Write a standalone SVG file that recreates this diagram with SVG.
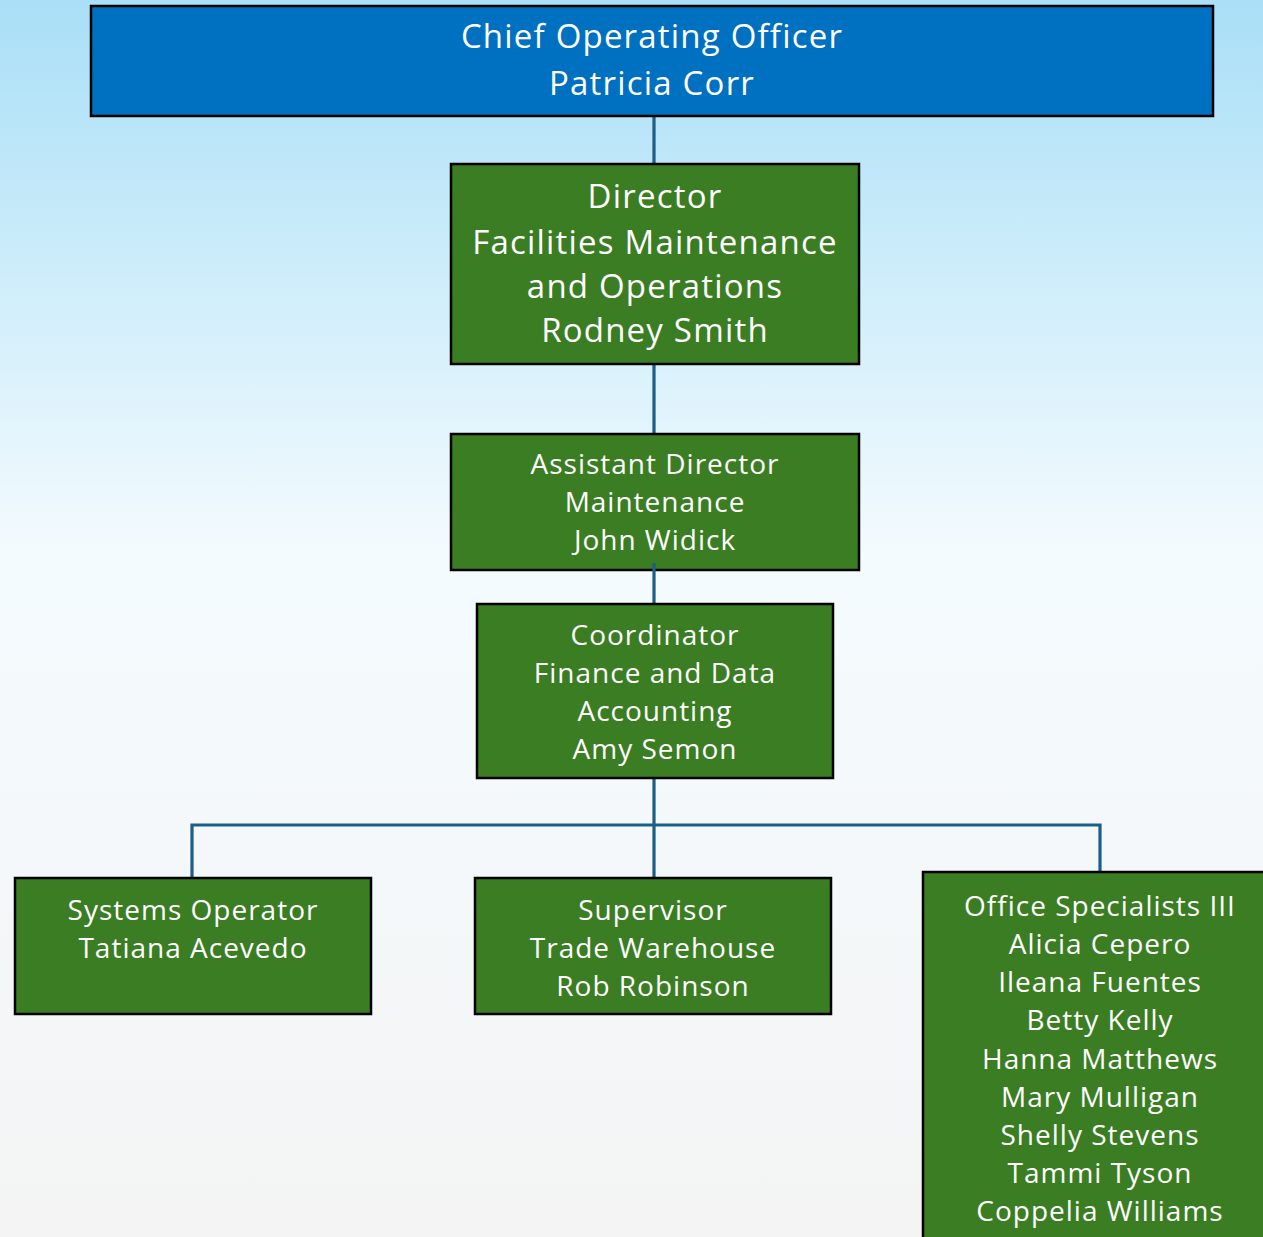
<svg xmlns="http://www.w3.org/2000/svg" width="1263" height="1237" viewBox="0 0 1263 1237">
<defs>
<linearGradient id="bg" x1="0" y1="0" x2="0" y2="1">
<stop offset="0" stop-color="#A9DFF7"/>
<stop offset="0.45" stop-color="#F4FBFE"/>
<stop offset="1" stop-color="#F4F4F4"/>
</linearGradient>
<style>
.box{fill:#3A7D22;stroke:#000;stroke-width:2.5}
.top{fill:#0070C0;stroke:#000;stroke-width:2.5}
text{font-family:"Open Sans","Liberation Sans",sans-serif;fill:#fff;text-anchor:middle}
.l{font-size:33px;letter-spacing:1.2px}
.m{font-size:28px;letter-spacing:1px}
.c{fill:none;stroke:#1B5E86;stroke-width:3.2}
</style>
</defs>
<rect x="0" y="0" width="1263" height="1237" fill="url(#bg)"/>
<g id="connectors">
<path class="c" d="M654 116V164M654 364V434M654 778V878M192 878V825H1100V872"/>
</g>
<g id="coo">
<rect class="top" x="91" y="6" width="1122" height="110"/>
<text class="l" x="652" y="48">Chief Operating Officer</text>
<text class="l" x="652" y="95">Patricia Corr</text>
</g>
<g id="director">
<rect class="box" x="451" y="164" width="408" height="200"/>
<text class="l" x="655" y="208">Director</text>
<text class="l" x="655" y="254">Facilities Maintenance</text>
<text class="l" x="655" y="298">and Operations</text>
<text class="l" x="655" y="342">Rodney Smith</text>
</g>
<g id="asstdir">
<rect class="box" x="451" y="434" width="408" height="136"/>
<text class="m" x="655" y="474">Assistant Director</text>
<text class="m" x="655" y="512">Maintenance</text>
<text class="m" x="655" y="550">John Widick</text>
</g>
<path class="c" d="M654 563V604"/>
<g id="coordinator">
<rect class="box" x="477" y="604" width="356" height="174"/>
<text class="m" x="655" y="645">Coordinator</text>
<text class="m" x="655" y="683">Finance and Data</text>
<text class="m" x="655" y="721">Accounting</text>
<text class="m" x="655" y="759">Amy Semon</text>
</g>
<g id="sysop">
<rect class="box" x="15" y="878" width="356" height="136"/>
<text class="m" x="193" y="920">Systems Operator</text>
<text class="m" x="193" y="958">Tatiana Acevedo</text>
</g>
<g id="supervisor">
<rect class="box" x="475" y="878" width="356" height="136"/>
<text class="m" x="653" y="920">Supervisor</text>
<text class="m" x="653" y="958">Trade Warehouse</text>
<text class="m" x="653" y="996">Rob Robinson</text>
</g>
<g id="office">
<rect class="box" x="923" y="872" width="360" height="380"/>
<text class="m" x="1100" y="916">Office Specialists III</text>
<text class="m" x="1100" y="954">Alicia Cepero</text>
<text class="m" x="1100" y="992">Ileana Fuentes</text>
<text class="m" x="1100" y="1030">Betty Kelly</text>
<text class="m" x="1100" y="1069">Hanna Matthews</text>
<text class="m" x="1100" y="1107">Mary Mulligan</text>
<text class="m" x="1100" y="1145">Shelly Stevens</text>
<text class="m" x="1100" y="1183">Tammi Tyson</text>
<text class="m" x="1100" y="1221">Coppelia Williams</text>
</g>
</svg>
